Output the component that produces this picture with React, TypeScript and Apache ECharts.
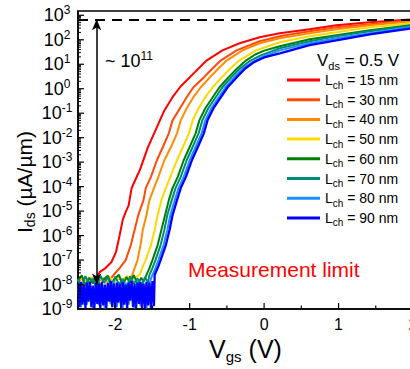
import React, { useEffect, useRef } from "react";
import * as echarts from "echarts";

const F = "'Liberation Sans', Arial, Helvetica, sans-serif";

// channel lengths (nm) and colours
const lengths = ["15", "30", "40", "50", "60", "70", "80", "90"];
const colors = ["#ff0000", "#ff4a0a", "#ff8c00", "#ffd800", "#008000", "#008a7a", "#1e8fff", "#0000ff"];

// x tick labels (V) and y decades
const xTicks = [-2.5, -2, -1.5, -1, -0.5, 0, 0.5, 1, 1.5, 2];
const yDecades = [-9, -8, -7, -6, -5, -4, -3, -2, -1, 0, 1, 2];

const measurementLimit = 1e-8;
const maxCurrent = 690;

// [Vgs (V), Ids (uA/um)]
const ids15: [number, number][] = [
  [-2.5, 1.3e-8], [-2.45, 1.8e-8], [-2.4, 1.1e-8], [-2.35, 1.6e-8], [-2.3, 1.4e-8], [-2.25, 1.9e-8],
  [-2.21, 3.2e-8], [-2.13, 4.7e-8], [-2.05, 8.3e-8], [-1.99, 2.1e-7], [-1.94, 1.05e-6], [-1.9, 4.3e-6],
  [-1.86, 9.1e-6], [-1.82, 1.7e-5], [-1.78, 8.7e-5], [-1.72, 2.2e-4], [-1.67, 4.7e-4], [-1.56, 4.1e-3],
  [-1.44, 2.7e-2], [-1.34, 0.13], [-1.23, 0.45], [-1.12, 1.26], [-1.0, 2.9], [-0.77, 14.5], [-0.56, 37],
  [-0.33, 72], [-0.06, 126], [0.21, 184], [0.61, 268], [0.97, 391], [1.42, 518], [2.0, 687],
];
const ids30: [number, number][] = [
  [-2.5, 1.4e-8], [-2.45, 1.9e-8], [-2.4, 1.2e-8], [-2.35, 1.7e-8], [-2.3, 1.3e-8], [-2.25, 2.0e-8],
  [-2.2, 1.5e-8], [-2.15, 1.8e-8], [-2.1, 1.4e-8], [-2.05, 1.9e-8],
  [-2.02, 2.5e-8], [-1.94, 4.7e-8], [-1.86, 1.0e-7], [-1.79, 4.1e-7], [-1.74, 1.7e-6], [-1.69, 6.9e-6],
  [-1.62, 2.8e-5], [-1.59, 8.7e-5], [-1.52, 2.5e-4], [-1.44, 1.2e-3], [-1.35, 4.9e-3], [-1.28, 1.5e-2],
  [-1.23, 5.1e-2], [-1.13, 0.16], [-1.04, 0.45], [-0.95, 1.15], [-0.81, 2.9], [-0.69, 6.9], [-0.58, 14.5],
  [-0.37, 37], [-0.06, 87], [0.21, 139], [0.61, 222], [0.97, 324], [1.42, 429], [2.0, 625],
];
const ids40: [number, number][] = [
  [-2.5, 1.3e-8], [-2.44, 1.8e-8], [-2.38, 1.1e-8], [-2.32, 1.7e-8], [-2.26, 1.4e-8], [-2.2, 2.0e-8],
  [-2.14, 1.2e-8], [-2.08, 1.9e-8], [-2.02, 1.3e-8], [-1.96, 1.8e-8], [-1.9, 1.5e-8], [-1.84, 2.1e-8], [-1.8, 1.6e-8],
  [-1.77, 2.5e-8], [-1.74, 4.7e-8], [-1.7, 1.0e-7], [-1.66, 4.1e-7], [-1.63, 1.7e-6], [-1.58, 6.9e-6],
  [-1.54, 2.8e-5], [-1.48, 8.7e-5], [-1.42, 2.5e-4], [-1.34, 1.2e-3], [-1.24, 4.9e-3], [-1.17, 1.5e-2],
  [-1.12, 5.1e-2], [-1.04, 0.16], [-0.95, 0.45], [-0.85, 1.15], [-0.73, 2.9], [-0.61, 6.9], [-0.5, 14.5],
  [-0.29, 37], [-0.06, 72], [0.21, 115], [0.61, 184], [0.97, 268], [1.42, 391], [2.0, 569],
];
const ids50: [number, number][] = [
  [-2.5, 1.5e-8], [-2.44, 1.9e-8], [-2.38, 1.2e-8], [-2.32, 2.0e-8], [-2.26, 1.4e-8], [-2.2, 1.8e-8],
  [-2.14, 1.1e-8], [-2.08, 2.1e-8], [-2.02, 1.3e-8], [-1.96, 1.9e-8], [-1.9, 1.5e-8], [-1.84, 2.2e-8],
  [-1.78, 1.6e-8], [-1.72, 2.0e-8],
  [-1.67, 2.5e-8], [-1.64, 4.7e-8], [-1.59, 1.0e-7], [-1.52, 4.1e-7], [-1.47, 1.7e-6], [-1.43, 6.9e-6],
  [-1.38, 2.8e-5], [-1.32, 8.7e-5], [-1.26, 2.5e-4], [-1.17, 1.2e-3], [-1.08, 4.9e-3], [-1.01, 1.5e-2],
  [-0.96, 5.1e-2], [-0.88, 0.16], [-0.79, 0.45], [-0.69, 1.15], [-0.57, 2.9], [-0.45, 6.9], [-0.33, 14.5],
  [-0.11, 37], [0.21, 79], [0.61, 139], [0.97, 202], [1.42, 324], [2.0, 471],
];
const ids60: [number, number][] = [
  [-2.5, 1.4e-8], [-2.45, 2.4e-8], [-2.4, 9e-9], [-2.35, 1.9e-8], [-2.3, 1.1e-8], [-2.25, 2.2e-8],
  [-2.2, 8e-9], [-2.15, 1.7e-8], [-2.1, 2.3e-8], [-2.05, 1.0e-8], [-2.0, 1.8e-8], [-1.95, 2.5e-8],
  [-1.9, 9e-9], [-1.85, 2.0e-8], [-1.8, 1.2e-8], [-1.75, 2.4e-8], [-1.7, 1.0e-8], [-1.65, 1.9e-8], [-1.62, 1.3e-8],
  [-1.58, 2.5e-8], [-1.54, 4.7e-8], [-1.5, 1.0e-7], [-1.43, 4.1e-7], [-1.38, 1.7e-6], [-1.33, 6.9e-6],
  [-1.28, 2.8e-5], [-1.23, 8.7e-5], [-1.16, 2.5e-4], [-1.08, 1.2e-3], [-0.99, 4.9e-3], [-0.92, 1.5e-2],
  [-0.87, 5.1e-2], [-0.79, 0.16], [-0.69, 0.45], [-0.6, 1.15], [-0.48, 2.9], [-0.36, 6.9], [-0.24, 14.5],
  [-0.12, 25], [0.0, 36], [0.21, 54], [0.61, 105], [0.97, 153], [1.42, 244], [2.0, 409],
];
const ids70: [number, number][] = [
  [-2.5, 1.6e-8], [-2.45, 8e-9], [-2.4, 2.2e-8], [-2.35, 1.1e-8], [-2.3, 1.8e-8], [-2.25, 7e-9],
  [-2.2, 2.3e-8], [-2.15, 1.2e-8], [-2.1, 1.9e-8], [-2.05, 9e-9], [-2.0, 2.1e-8], [-1.95, 1.0e-8],
  [-1.9, 1.7e-8], [-1.85, 6e-9], [-1.8, 2.2e-8], [-1.75, 1.1e-8], [-1.7, 1.8e-8], [-1.65, 8e-9],
  [-1.6, 2.0e-8], [-1.56, 1.2e-8],
  [-1.54, 2.5e-8], [-1.5, 4.7e-8], [-1.46, 1.0e-7], [-1.39, 4.1e-7], [-1.34, 1.7e-6], [-1.3, 6.9e-6],
  [-1.24, 2.8e-5], [-1.19, 8.7e-5], [-1.12, 2.5e-4], [-1.04, 1.2e-3], [-0.95, 4.9e-3], [-0.88, 1.5e-2],
  [-0.83, 5.1e-2], [-0.75, 0.16], [-0.65, 0.45], [-0.56, 1.15], [-0.44, 2.9], [-0.32, 6.9], [-0.2, 13],
  [-0.06, 22], [0.21, 45], [0.61, 87], [0.97, 139], [1.42, 222], [2.0, 391],
];
const ids80: [number, number][] = [
  [-2.5, 8e-9], [-2.46, 1.2e-9], [-2.42, 1.1e-8], [-2.38, 1.5e-9], [-2.34, 1.2e-8], [-2.3, 1.1e-9],
  [-2.26, 9e-9], [-2.22, 1.4e-9], [-2.18, 1.2e-8], [-2.14, 1.05e-9], [-2.1, 1.0e-8], [-2.06, 1.6e-9],
  [-2.02, 1.3e-8], [-1.98, 1.2e-9], [-1.94, 1.1e-8], [-1.9, 1.1e-9], [-1.86, 1.2e-8], [-1.82, 1.5e-9],
  [-1.78, 1.0e-8], [-1.74, 1.05e-9], [-1.7, 1.3e-8], [-1.66, 1.3e-9], [-1.62, 1.1e-8], [-1.58, 1.05e-9],
  [-1.54, 1.2e-8],
  [-1.5, 2.5e-8], [-1.46, 4.7e-8], [-1.42, 1.0e-7], [-1.35, 4.1e-7], [-1.3, 1.7e-6], [-1.26, 6.9e-6],
  [-1.2, 2.8e-5], [-1.15, 8.7e-5], [-1.08, 2.5e-4], [-1.0, 1.2e-3], [-0.91, 4.9e-3], [-0.84, 1.5e-2],
  [-0.79, 5.1e-2], [-0.71, 0.16], [-0.61, 0.45], [-0.52, 1.15], [-0.4, 2.9], [-0.28, 6.9], [-0.16, 12],
  [-0.04, 19], [0.21, 37], [0.61, 72], [0.97, 115], [1.42, 184], [2.0, 340],
];
const ids90: [number, number][] = [
  [-2.5, 1.1e-8], [-2.48, 1.2e-9], [-2.46, 1.3e-8], [-2.44, 1.5e-9], [-2.42, 1.0e-8], [-2.4, 1.05e-9],
  [-2.38, 1.2e-8], [-2.36, 2e-9], [-2.34, 1.3e-8], [-2.32, 1.2e-9], [-2.3, 9e-9], [-2.28, 1.1e-9],
  [-2.26, 1.2e-8], [-2.24, 1.6e-9], [-2.22, 1.1e-8], [-2.2, 1.05e-9], [-2.18, 1.3e-8], [-2.16, 1.4e-9],
  [-2.14, 1.0e-8], [-2.12, 1.1e-9], [-2.1, 1.2e-8], [-2.08, 2e-9], [-2.06, 1.4e-8], [-2.04, 1.2e-9],
  [-2.02, 1.1e-8], [-2.0, 1.05e-9], [-1.98, 1.2e-8], [-1.96, 1.8e-9], [-1.94, 1.1e-8], [-1.92, 1.1e-9],
  [-1.9, 1.3e-8], [-1.88, 1.5e-9], [-1.86, 1.0e-8], [-1.84, 1.05e-9], [-1.82, 1.2e-8], [-1.8, 2.2e-9],
  [-1.78, 1.4e-8], [-1.76, 1.2e-9], [-1.74, 1.1e-8], [-1.72, 1.1e-9], [-1.7, 1.2e-8], [-1.68, 1.6e-9],
  [-1.66, 1.3e-8], [-1.64, 1.1e-9], [-1.62, 1.1e-8], [-1.6, 1.05e-9], [-1.58, 1.3e-8], [-1.56, 1.4e-9],
  [-1.54, 1.2e-8], [-1.52, 1.1e-9], [-1.5, 1.4e-8], [-1.48, 1.3e-9],
  [-1.47, 2.5e-8], [-1.43, 4.7e-8], [-1.39, 1.0e-7], [-1.32, 4.1e-7], [-1.27, 1.7e-6], [-1.23, 6.9e-6],
  [-1.17, 2.8e-5], [-1.12, 8.7e-5], [-1.05, 2.5e-4], [-0.97, 1.2e-3], [-0.88, 4.9e-3], [-0.81, 1.5e-2],
  [-0.76, 5.1e-2], [-0.68, 0.16], [-0.58, 0.45], [-0.49, 1.15], [-0.37, 2.9], [-0.25, 6.9], [-0.13, 12.5],
  [0.0, 19], [0.21, 28], [0.61, 60], [0.97, 95], [1.42, 168], [2.0, 295],
];

const curveData = [ids15, ids30, ids40, ids50, ids60, ids70, ids80, ids90];
const seriesNames = lengths.map((l) => `Lch = ${l} nm`);

export default function App() {
  const ref = useRef<HTMLDivElement>(null);
  useEffect(() => {
    if (!ref.current) return;
    const chart = echarts.init(ref.current, undefined, { renderer: "svg" });

    const yMinor: [number, number][] = [];
    yDecades.forEach((e) => {
      for (let m = 2; m <= 9; m++) yMinor.push([-2.5, m * Math.pow(10, e)]);
    });
    const yMajor: [number, number][] = yDecades.concat([3]).map((e) => [-2.5, Math.pow(10, e)]);
    const xTickData = xTicks.map((x) => [x, 1e-9, Number.isInteger(x) ? 1 : 0]);

    const lineSeries = curveData.map((d, i) => {
      const s: any = {
        type: "line",
        name: seriesNames[i],
        data: d,
        showSymbol: false,
        symbol: "none",
        lineStyle: { color: colors[i], width: i === 7 ? 2.3 : 2 },
        itemStyle: { color: colors[i] },
        z: 2,
      };
      if (i === 7) {
        s.markLine = {
          silent: true,
          symbol: "none",
          label: { show: false },
          animation: false,
          data: [
            { yAxis: maxCurrent, lineStyle: { color: "#000", type: [10, 7], width: 2 } },
            { yAxis: measurementLimit, lineStyle: { color: "#ff0000", type: [8, 7], width: 1.6 } },
            [
              { coord: [-2.25, measurementLimit], symbol: "arrow", symbolSize: [7, 11], lineStyle: { color: "#000", type: "solid", width: 1.5 } },
              { coord: [-2.25, maxCurrent], symbol: "arrow", symbolSize: [7, 11] },
            ],
          ],
        };
      }
      return s;
    });

    const option: any = {
      animation: false,
      backgroundColor: "#fff",
      textStyle: { fontFamily: F },
      grid: {
        left: 78, top: 11, right: -3, bottom: 60,
        show: true, borderColor: "#000", borderWidth: 1.5,
        containLabel: false, outerBoundsMode: "none",
      },
      xAxis: {
        type: "value", min: -2.5, max: 2, interval: 0.5,
        axisLine: { show: true, onZero: false, lineStyle: { color: "#000", width: 1.5 } },
        axisTick: { show: false },
        splitLine: { show: false },
        axisLabel: {
          fontSize: 16, color: "#000", fontFamily: F, margin: 7,
          formatter: (v: number) => (Number.isInteger(v) ? String(v) : ""),
        },
        name: "{m|V}{s|gs}{m| (V)}",
        nameLocation: "middle",
        nameGap: 14,
        nameTextStyle: {
          color: "#000",
          rich: {
            m: { fontSize: 25, fontFamily: F, color: "#000", lineHeight: 30, verticalAlign: "middle" },
            s: { fontSize: 15, fontFamily: F, color: "#000", lineHeight: 14, verticalAlign: "bottom" },
          },
        },
      },
      yAxis: {
        type: "log", min: 1e-9, max: 1.5e3, interval: 1, splitNumber: 12,
        axisLine: { show: true, onZero: false, lineStyle: { color: "#000", width: 1.5 } },
        axisTick: { show: false },
        minorTick: { show: false },
        splitLine: { show: false },
        axisLabel: {
          align: "center", margin: 21, color: "#000",
          formatter: (v: number) => {
            const l = Math.log10(v);
            const e = Math.round(l);
            if (Math.abs(l - e) > 1e-6) return "";
            return `{b|10}{e|${e}}`;
          },
          rich: {
            b: { fontSize: 18, fontFamily: F, color: "#000", lineHeight: 22, verticalAlign: "middle" },
            e: { fontSize: 12, fontFamily: F, color: "#000", lineHeight: 12, verticalAlign: "top" },
          },
        },
      },
      legend: {
        orient: "vertical", left: 287, top: 73, padding: 0,
        itemWidth: 33, itemHeight: 3, itemGap: 2.7, icon: "rect",
        selectedMode: false,
        data: seriesNames,
        formatter: (name: string) => {
          const i = seriesNames.indexOf(name);
          return `{m|L}{s|ch}{m| = ${lengths[i]} nm}`;
        },
        textStyle: {
          color: "#000", fontFamily: F,
          rich: {
            m: { fontSize: 14, fontFamily: F, color: "#000", lineHeight: 20, verticalAlign: "middle" },
            s: { fontSize: 10, fontFamily: F, color: "#000", lineHeight: 10, verticalAlign: "bottom" },
          },
        },
      },
      graphic: [
        {
          type: "text", x: 105, y: 61, silent: true,
          style: {
            text: "{m|~ 10}{p|11}", verticalAlign: "middle", fill: "#000",
            rich: {
              m: { fontSize: 18, fontFamily: F, fill: "#000", lineHeight: 22, verticalAlign: "middle" },
              p: { fontSize: 12, fontFamily: F, fill: "#000", lineHeight: 12, verticalAlign: "top" },
            },
          },
        },
        {
          type: "text", x: 317, y: 60, silent: true,
          style: {
            text: "{m|V}{s|ds}{m| = 0.5 V}", verticalAlign: "middle", fill: "#000",
            rich: {
              m: { fontSize: 17, fontFamily: F, fill: "#000", lineHeight: 22, verticalAlign: "middle" },
              s: { fontSize: 11, fontFamily: F, fill: "#000", lineHeight: 11, verticalAlign: "bottom" },
            },
          },
        },
        {
          type: "text", x: 188, y: 269, silent: true,
          style: { text: "Measurement limit", fontSize: 21, fontFamily: F, fill: "#ff0000", verticalAlign: "middle" },
        },
        {
          type: "text", x: 24, y: 182, rotation: Math.PI / 2, silent: true,
          style: {
            text: "{m|I}{s|ds}{m| (µA/µm)}", align: "center", verticalAlign: "middle", fill: "#000",
            rich: {
              m: { fontSize: 21, fontFamily: F, fill: "#000", lineHeight: 26, verticalAlign: "middle" },
              s: { fontSize: 14, fontFamily: F, fill: "#000", lineHeight: 14, verticalAlign: "bottom" },
            },
          },
        },
      ],
      series: [
        ...lineSeries,
        {
          type: "custom", name: "yMinorTicks", silent: true, z: 5,
          data: yMinor,
          renderItem: (_p: any, api: any) => {
            const pt = api.coord([api.value(0), api.value(1)]);
            return { type: "line", shape: { x1: pt[0], y1: pt[1], x2: pt[0] + 3, y2: pt[1] }, style: { stroke: "#000", lineWidth: 1 } };
          },
        },
        {
          type: "custom", name: "yMajorTicks", silent: true, z: 5,
          data: yMajor,
          renderItem: (_p: any, api: any) => {
            const pt = api.coord([api.value(0), api.value(1)]);
            return { type: "line", shape: { x1: pt[0], y1: pt[1], x2: pt[0] + 6, y2: pt[1] }, style: { stroke: "#000", lineWidth: 1.2 } };
          },
        },
        {
          type: "custom", name: "xTicks", silent: true, z: 5,
          data: xTickData,
          renderItem: (_p: any, api: any) => {
            const pt = api.coord([api.value(0), api.value(1)]);
            const len = api.value(2) ? 6 : 3.5;
            return { type: "line", shape: { x1: pt[0], y1: pt[1], x2: pt[0], y2: pt[1] - len }, style: { stroke: "#000", lineWidth: 1.2 } };
          },
        },
      ],
    };
    chart.setOption(option);
    return () => chart.dispose();
  }, []);
  return <div ref={ref} style={{ position: "fixed", left: 0, top: 0, width: 410, height: 369 }} />;
}
